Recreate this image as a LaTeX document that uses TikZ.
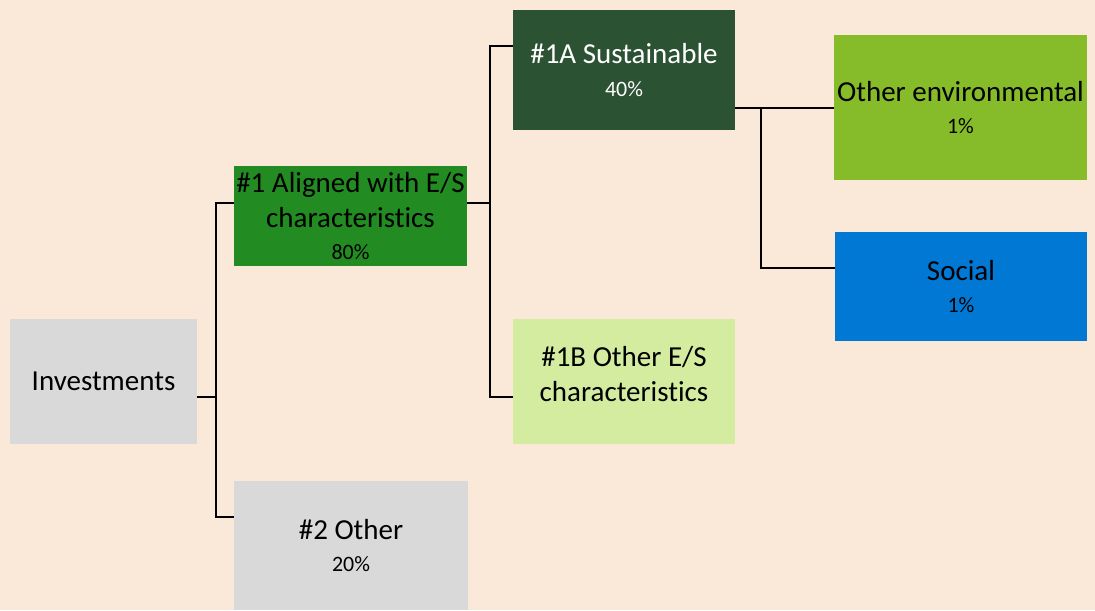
\documentclass[tikz,border=0pt]{standalone}
\usepackage{fontspec}
\setmainfont[Ligatures=NoCommon]{Carlito}
\definecolor{bgpeach}{HTML}{FAE8D8}
\definecolor{boxgray}{HTML}{D9D9D9}
\definecolor{alignedgreen}{HTML}{228B22}
\definecolor{sustgreen}{HTML}{2C5234}
\definecolor{esgreen}{HTML}{D3EC9F}
\definecolor{envgreen}{HTML}{86BC29}
\definecolor{socblue}{HTML}{0078D4}
\newcommand{\bigtxt}{\fontsize{16.5}{20}\selectfont}
\newcommand{\pct}[1]{{\fontsize{12.5}{15}\selectfont #1}}
\begin{document}
\begin{tikzpicture} [x=0.02cm, y=-0.02cm,
	box/.style={inner sep=0pt, align=center, font=\bigtxt},
	link/.style={line width=1.3pt, black}]
	\fill[bgpeach] (0,0) rectangle (1095,610);
	\useasboundingbox (0,0) rectangle (1095,610);
	% boxes
	\node[box, fill=boxgray, minimum width=3.74cm, minimum height=2.5cm] (inv) at (103.5,381.5) {Investments};
	\node[box, fill=alignedgreen, minimum width=4.66cm, minimum height=2cm] (al) at (350.5,216) {\#1 Aligned with E/S\\characteristics\\[-1.5pt]\pct{80\%}};
	\node[box, fill=boxgray, minimum width=4.68cm, minimum height=2.58cm] (oth) at (351,545.5) {\#2 Other\\[-1.5pt]\pct{20\%}};
	\node[box, fill=sustgreen, text=white, minimum width=4.44cm, minimum height=2.4cm] (sus) at (624,70) {\#1A Sustainable\\[-1.5pt]\pct{40\%}};
	\node[box, fill=esgreen, minimum width=4.44cm, minimum height=2.5cm] (es) at (624,381.5) {};
	\node[box] at (624,374) {\#1B Other E/S\\characteristics};
	\node[box, fill=envgreen, minimum width=5.06cm, minimum height=2.9cm] (env) at (960.5,107.5) {Other environmental\\[-1.5pt]\pct{1\%}};
	\node[box, fill=socblue, minimum width=5.04cm, minimum height=2.18cm] (soc) at (961,286.5) {Social\\[-1.5pt]\pct{1\%}};
	% connectors
	\coordinate (a0) at (216,397);
	\coordinate (a1) at (216,203);
	\coordinate (a2) at (216,517);
	\draw[link] (inv.east |- a0) -- (a0);
	\draw[link] (a1 -| al.west) -- (a1) -- (a2) -- (a2 -| oth.west);
	\coordinate (b0) at (490,203);
	\coordinate (b1) at (490,46);
	\coordinate (b2) at (490,397);
	\draw[link] (al.east |- b0) -- (b0);
	\draw[link] (b1 -| sus.west) -- (b1) -- (b2) -- (b2 -| es.west);
	\coordinate (c0) at (761,108);
	\coordinate (c1) at (761,268);
	\draw[link] (sus.east |- c0) -- (c0 -| env.west);
	\draw[link] (c0) -- (c1) -- (c1 -| soc.west);
\end{tikzpicture}
\end{document}
